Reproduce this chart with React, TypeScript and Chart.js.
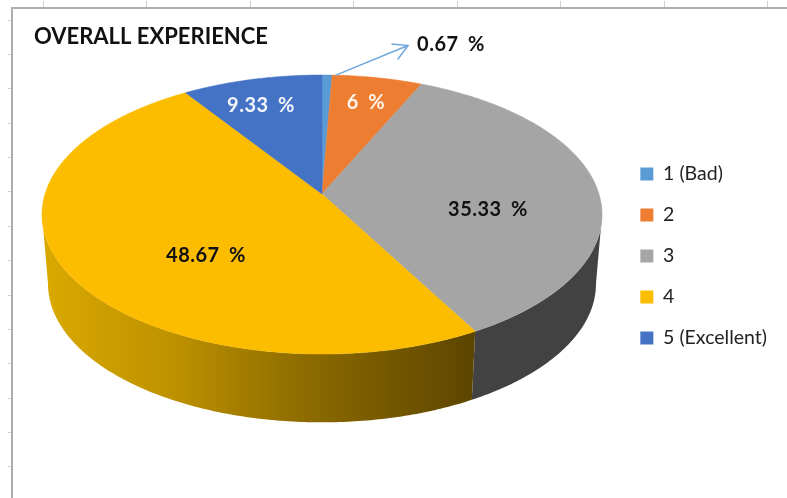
import React, { useEffect, useRef } from "react";
import { Chart, registerables } from "chart.js";

Chart.register(...registerables);

const categories = ["1 (Bad)", "2", "3", "4", "5 (Excellent)"];
const values = [0.67, 6, 35.33, 48.67, 9.33];
const faceColors = ["#5B9BD5", "#ED7D31", "#A5A5A5", "#FCBD00", "#4472C4"];
const valueLabels = ["0.67 %", "6 %", "35.33 %", "48.67 %", "9.33 %"];
const labelColors = ["#111111", "#FFF4EA", "#111111", "#111111", "#F2F5FB"];
const labelPositions = [
  [451, 45],
  [366, 103],
  [488, 210],
  [206, 256],
  [261, 106],
];
const topTicks = [43, 146, 250, 353, 457, 560, 664, 767];
const leftTicks = [20, 54, 88, 122.5, 157, 191, 225.5, 260, 294.5, 329, 363, 397.5, 432, 466];

const CX = 322;
const K = 0.147;
const top3d = { y0: 194, A: 136.5, B: 277 };
const bottom3d = { y0: 263.5, A: 135.5, B: 271 };

// Perspective projection of a unit-circle point (t clockwise from 12 o'clock)
function project(t: number, r: number, g: { y0: number; A: number; B: number }) {
  const u = Math.sin(t) * r;
  const v = -Math.cos(t) * r;
  const w = 1 - K * v;
  return [CX + (g.B * u) / w, g.y0 + (g.A * v) / w];
}

const pie3dPlugin = {
  id: "pie3d",
  beforeDraw(chart: any) {
    const ctx = chart.ctx;
    ctx.save();
    ctx.fillStyle = "#ffffff";
    ctx.fillRect(0, 0, chart.width, chart.height);
    ctx.strokeStyle = "#CFCFCF";
    ctx.lineWidth = 1;
    ctx.beginPath();
    topTicks.forEach((x) => {
      ctx.moveTo(x + 0.5, 1);
      ctx.lineTo(x + 0.5, 7);
    });
    leftTicks.forEach((y) => {
      ctx.moveTo(8, Math.round(y) + 0.5);
      ctx.lineTo(11, Math.round(y) + 0.5);
    });
    ctx.stroke();
    ctx.strokeStyle = "#ADADAD";
    ctx.lineWidth = 2;
    ctx.beginPath();
    ctx.moveTo(12, 498);
    ctx.lineTo(12, 8);
    ctx.lineTo(787, 8);
    ctx.stroke();
    ctx.restore();
  },
  beforeDatasetsDraw(chart: any) {
    const ctx = chart.ctx;
    const arcs = chart.getDatasetMeta(0).data;
    const wallMin = Math.acos(-K);
    const wallMax = 2 * Math.PI - wallMin;
    const yellowWall = ctx.createLinearGradient(42, 0, 474, 0);
    yellowWall.addColorStop(0, "#DAA900");
    yellowWall.addColorStop(0.3, "#BE9200");
    yellowWall.addColorStop(0.6, "#8E6C00");
    yellowWall.addColorStop(1, "#5C4500");
    const wallFill = (i: number) => (i === 3 ? yellowWall : "#424242");

    ctx.save();
    // walls
    arcs.forEach((arc: any, i: number) => {
      const a = Math.max(arc.startAngle + Math.PI / 2, wallMin);
      const b = Math.min(arc.endAngle + Math.PI / 2, wallMax);
      if (b <= a) return;
      const n = Math.max(2, Math.ceil((b - a) * 80));
      ctx.beginPath();
      for (let s = 0; s <= n; s++) {
        const p = project(a + ((b - a) * s) / n, 1, top3d);
        if (s === 0) ctx.moveTo(p[0], p[1]);
        else ctx.lineTo(p[0], p[1]);
      }
      for (let s = n; s >= 0; s--) {
        const q = project(a + ((b - a) * s) / n, 1, bottom3d);
        ctx.lineTo(q[0], q[1]);
      }
      ctx.closePath();
      ctx.fillStyle = wallFill(i);
      ctx.fill();
    });
    // top faces
    arcs.forEach((arc: any) => {
      const a = arc.startAngle + Math.PI / 2;
      const b = arc.endAngle + Math.PI / 2;
      const n = Math.max(4, Math.ceil((b - a) * 120));
      ctx.beginPath();
      const c = project(0, 0, top3d);
      ctx.moveTo(c[0], c[1]);
      for (let s = 0; s <= n; s++) {
        const p = project(a + ((b - a) * s) / n, 1, top3d);
        ctx.lineTo(p[0], p[1]);
      }
      ctx.closePath();
      ctx.fillStyle = arc.options.backgroundColor;
      ctx.strokeStyle = arc.options.backgroundColor;
      ctx.lineWidth = 0.5;
      ctx.fill();
      ctx.stroke();
    });
    // leader arrow of the smallest slice
    const first = arcs[0];
    const start = project((first.startAngle + first.endAngle) / 2 + Math.PI / 2 + 0.02, 1, top3d);
    ctx.strokeStyle = "#6FA8DC";
    ctx.lineWidth = 1.5;
    ctx.lineCap = "round";
    ctx.beginPath();
    ctx.moveTo(start[0] + 4, start[1]);
    ctx.lineTo(408, 45.5);
    ctx.moveTo(392, 44);
    ctx.lineTo(408, 45.5);
    ctx.lineTo(398, 59);
    ctx.stroke();
    // value labels
    ctx.font = "bold 20px Lato";
    ctx.letterSpacing = "0.5px";
    ctx.wordSpacing = "4px";
    ctx.textAlign = "center";
    ctx.textBaseline = "middle";
    valueLabels.forEach((text, i) => {
      ctx.fillStyle = labelColors[i];
      ctx.fillText(text, labelPositions[i][0], labelPositions[i][1]);
    });
    ctx.restore();
    return false;
  },
};

export default function App() {
  const ref = useRef<HTMLCanvasElement | null>(null);
  useEffect(() => {
    if (!ref.current) return;
    const chart = new Chart(ref.current, {
      type: "pie",
      data: {
        labels: categories,
        datasets: [
          { data: values, backgroundColor: faceColors, borderWidth: 0 },
        ],
      },
      options: {
        responsive: false,
        animation: false,
        rotation: 0,
        layout: { padding: { left: 34, top: 14, right: 10, bottom: 0 } },
        plugins: {
          tooltip: { enabled: false },
          title: {
            display: true,
            text: "OVERALL EXPERIENCE",
            align: "start",
            color: "#111111",
            font: { family: "Lato", size: 22, weight: "bold" },
            padding: { top: 10, bottom: 0 },
          },
          legend: {
            position: "right",
            labels: {
              boxWidth: 13,
              boxHeight: 13,
              padding: 21.5,
              color: "#222222",
              font: { family: "Lato", size: 19.5 },
            },
          },
        },
      },
      plugins: [pie3dPlugin],
    } as any);
    return () => chart.destroy();
  }, []);
  return (
    <div style={{ position: "fixed", left: 0, top: 0, width: 787, height: 498, overflow: "hidden", background: "#fff" }}>
      <canvas ref={ref} width={787} height={498} style={{ display: "block" }} />
    </div>
  );
}
